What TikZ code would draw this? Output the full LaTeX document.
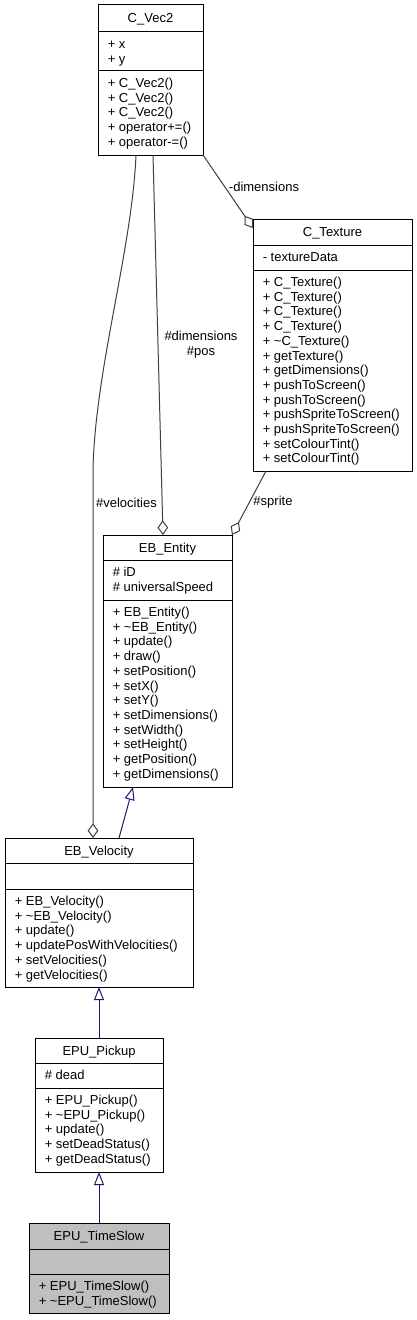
\documentclass[tikz,border=0pt]{standalone}
\usepackage{fontspec}
\setmainfont{Liberation Sans}
\usetikzlibrary{arrows.meta,calc}
\definecolor{edgegrey}{HTML}{404040}
\definecolor{inhblue}{HTML}{191970}
\definecolor{hlgrey}{HTML}{BFBFBF}
\newcommand\umlfont{\fontsize{9.75}{11}\selectfont}
\tikzset{
 classbox/.style={draw=black, line width=0.75pt, inner sep=0pt, outer sep=0pt, anchor=north west},
 classline/.style={draw=black, line width=0.75pt},
 titletext/.style={anchor=base, inner sep=0pt, font=\umlfont},
 member/.style={anchor=base west, inner sep=0pt, font=\umlfont},
 edgelabel/.style={inner sep=0pt, font=\umlfont, align=center},
 assoc/.style={draw=edgegrey, line width=0.75pt, -{Diamond[open, fill=white, length=11pt, width=8pt]}},
 inherit/.style={draw=inhblue, line width=0.75pt, -{Triangle[open, fill=white, length=9.75pt, width=7.5pt]}},
}
% #1 name, #2 L, #3 T, #4 R, #5 B, #6 S1, #7 S2, #8 title, #9 fill
\newcommand\umlbox[9]{%
 \node[classbox, fill=#9, minimum width={(#4-#2)*0.75pt}, minimum height={(#5-#3)*0.75pt}] (#1) at (#2,#3) {};
 \draw[classline] (#2,#6) -- (#4,#6);
 \draw[classline] (#2,#7) -- (#4,#7);
 \node[titletext] (#1title) at ({(#2+#4)/2},{#3+17.5}) {#8};
}
% #1 name prefix, #2 L, #3 section top, #4 list
\newcommand\umlmembers[4]{%
 \foreach \t [count=\i] in {#4} {\node[member] (#1\i) at ({#2+9.5},{#3+16.5+(\i-1)*14.7}) {\t};}%
}
\begin{document}
\begin{tikzpicture}[x=0.75pt,y=-0.75pt]
\useasboundingbox (0,0) rectangle (417,1320);
\fill[white] (0,0) rectangle (417,1320);

% C_Vec2
\umlbox{vec2}{98}{5}{203}{155}{32}{71}{C\_Vec2}{white}
\umlmembers{vec2a}{98}{32}{+ x, + y}
\umlmembers{vec2m}{98}{71}{+ C\_Vec2(), + C\_Vec2(), + C\_Vec2(), + operator+=(), + operator-=()}

% C_Texture
\umlbox{tex}{253}{219}{412}{471}{245}{270}{C\_Texture}{white}
\umlmembers{texa}{253}{245}{- textureData}
\umlmembers{texm}{253}{270}{+ C\_Texture(), + C\_Texture(), + C\_Texture(), + C\_Texture(), + \textasciitilde C\_Texture(), + getTexture(), + getDimensions(), + pushToScreen(), + pushToScreen(), + pushSpriteToScreen(), + pushSpriteToScreen(), + setColourTint(), + setColourTint()}

% EB_Entity
\umlbox{entity}{103}{535}{232}{787}{560}{600}{EB\_Entity}{white}
\umlmembers{entitya}{103}{560}{\# iD, \# universalSpeed}
\umlmembers{entitym}{103}{600}{+ EB\_Entity(), + \textasciitilde EB\_Entity(), + update(), + draw(), + setPosition(), + setX(), + setY(), + setDimensions(), + setWidth(), + setHeight(), + getPosition(), + getDimensions()}

% EB_Velocity
\umlbox{velocity}{5}{838}{193}{987}{863}{889}{EB\_Velocity}{white}
\umlmembers{velocitym}{5}{889}{+ EB\_Velocity(), + \textasciitilde EB\_Velocity(), + update(), + updatePosWithVelocities(), + setVelocities(), + getVelocities()}

% EPU_Pickup
\umlbox{pickup}{35}{1038}{163}{1172}{1063}{1088}{EPU\_Pickup}{white}
\umlmembers{pickupa}{35}{1063}{\# dead}
\umlmembers{pickupm}{35}{1088}{+ EPU\_Pickup(), + \textasciitilde EPU\_Pickup(), + update(), + setDeadStatus(), + getDeadStatus()}

% EPU_TimeSlow
\umlbox{timeslow}{29}{1223}{169}{1313}{1249}{1274}{EPU\_TimeSlow}{hlgrey}
\umlmembers{timeslowm}{29}{1274}{+ EPU\_TimeSlow(), + \textasciitilde EPU\_TimeSlow()}

% associations
\draw[assoc] (vec2.south east) -- ($(tex.north west)+(0,9)$);
\node[edgelabel] (lbldimtex) at (264,187) {-dimensions};

\draw[assoc] ($(vec2.south west)+(55,0)$) -- ($(entity.north west)+(60,0)$);
\node[edgelabel] (lbldimpos) at (201,344.5) {\#dimensions\\\#pos};

\draw[assoc] ($(vec2.south west)+(38,0)$) .. controls (132,250) and (95,370) .. (93,470) -- ($(velocity.north west)+(88,0)$);
\node[edgelabel] (lblvel) at (126.5,503) {\#velocities};

\draw[assoc] ($(tex.south west)+(13,0)$) -- (entity.north east);
\node[edgelabel] (lblsprite) at (273,502) {\#sprite};

% inheritance
\draw[inherit] ($(velocity.north west)+(114,0)$) -- ($(entity.south west)+(30,0)$);
\draw[inherit] ($(pickup.north west)+(64,0)$) -- ($(velocity.south west)+(94,0)$);
\draw[inherit] ($(timeslow.north west)+(70,0)$) -- ($(pickup.south west)+(64,0)$);
\end{tikzpicture}
\end{document}
